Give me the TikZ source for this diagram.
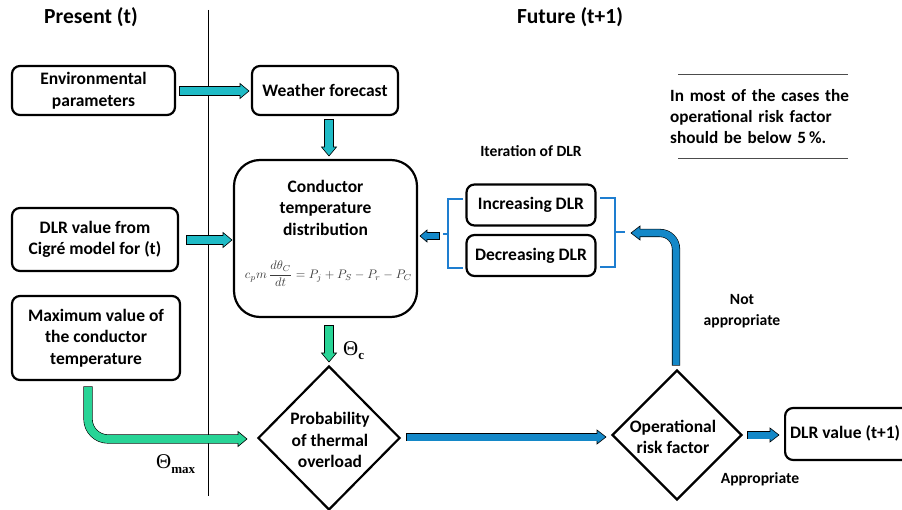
\documentclass[tikz,border=0pt]{standalone}
\usepackage{fontspec}
\setmainfont{Carlito}
\newfontfamily\serifx{Liberation Serif}
\usetikzlibrary{calc,shapes.geometric}
\definecolor{cyanA}{RGB}{31,187,198}
\definecolor{greenA}{RGB}{40,212,150}
\definecolor{blueA}{RGB}{20,136,200}
\definecolor{brk}{RGB}{30,126,208}
\definecolor{eqgray}{RGB}{60,60,60}
\newcommand\arsize[3]{\def\arSW{#1}\def\arHW{#2}\def\arHL{#3}\pgfmathsetmacro\arSWO{#1+1.2}\pgfmathsetmacro\arHLI{#3-1}}
\newcommand\barr[5][]{%
  \path ($(#5)!\arHL pt!(#4)$) coordinate (hb) ($(#5)!\arHLI pt!(#4)$) coordinate (hbi);
  \draw[#1, line width=\arSWO pt, black, shorten <=-0.6pt] #3 (hb);
  \filldraw[fill=#2, draw=black, line width=0.6pt, line join=miter] ($(hb)!\arHW pt!90:(#5)$) -- (#5) -- ($(hb)!\arHW pt!-90:(#5)$) -- cycle;
  \draw[#1, line width=\arSW pt, #2] #3 (hbi);
}
\tikzset{
  box/.style={draw, line width=2.2pt, rounded corners=8pt, align=center, inner sep=0pt,
    font=\bfseries\fontsize{17.5}{21.5}\selectfont},
  dia/.style={draw, diamond, line width=2.2pt, inner sep=0pt},
  txt/.style={align=center, inner sep=0pt, font=\bfseries\fontsize{17.5}{21.5}\selectfont},
  small/.style={align=center, inner sep=0pt, font=\bfseries\fontsize{15.6}{20.5}\selectfont},
  head/.style={inner sep=0pt, font=\bfseries\fontsize{21.5}{24}\selectfont},
  brack/.style={draw=brk, line width=2pt},
}
\begin{document}
\begin{tikzpicture}[x=1pt,y=-1pt]
\useasboundingbox (0,0) rectangle (902,510);
\clip (0,0) rectangle (902,510);
\fill[white] (0,0) rectangle (902,510);

% headings and divider
\node[head] (present) at (91,17) {Present (t)};
\node[head] (future) at (570,17) {Future (t+1)};
\coordinate (vtop) at (208,10);
\coordinate (vbot) at (208,496);
\draw[line width=1pt] (vtop) -- (vbot);

% boxes
\node[box, minimum width=163pt, minimum height=49pt] (env) at (93.5,90.5) {Environmental\\parameters};
\node[box, minimum width=146pt, minimum height=49pt] (weather) at (325,90.5) {Weather forecast};
\node[box, minimum width=183pt, minimum height=157pt, rounded corners=26pt] (cond) at (325.5,238.5) {};
\node[txt] (condt) at (325.5,207.5) {Conductor\\temperature\\distribution};
\node[inner sep=0pt, text=eqgray] (eq) at (328.5,274)
  {\resizebox{167pt}{!}{$c_p m\,\displaystyle\frac{d\theta_C}{dt} = P_j + P_S - P_r - P_C$}};
\node[box, minimum width=166pt, minimum height=63pt] (dlr) at (95,239.5) {DLR value from\\Cigré model for (t)};
\node[box, minimum width=168pt, minimum height=84pt] (maxv) at (96,338) {Maximum value of\\the conductor\\temperature};
\node[box, minimum width=129pt, minimum height=41pt] (inc) at (531,205) {Increasing DLR};
\node[box, minimum width=129pt, minimum height=41pt] (dec) at (531,255.5) {Decreasing DLR};
\node[box, minimum width=128pt, minimum height=52pt, anchor=west] (dlrout) at (784,434) {};
\node[txt, anchor=west] (dlroutt) at (790,433) {DLR value (t+1)};

% diamonds
\node[dia, minimum width=142pt, minimum height=144pt] (probd) at (329,438) {};
\node[txt] (probt) at (330,440) {Probability\\of thermal\\overload};
\node[dia, minimum width=130pt, minimum height=130pt] (opd) at (677,435) {};
\node[txt] (opt) at (673,437) {Operational\\risk factor};

% labels
\node[small] (iter) at (531,151) {Iteration of DLR};
\node[small] (notapp) at (742,311) {Not\\appropriate};
\node[small] (app) at (760,479) {Appropriate};
\node[anchor=west, inner sep=0pt, font=\serifx\fontsize{21}{21}\selectfont] (thc) at (343,351) {Θ\raisebox{-4pt}{\fontsize{13}{13}\selectfont\bfseries c}};
\node[anchor=west, inner sep=0pt, font=\serifx\fontsize{21}{21}\selectfont] (thm) at (156,464) {Θ\raisebox{-5pt}{\fontsize{13}{13}\selectfont\bfseries max}};

% note
\coordinate (n1a) at (678,74); \coordinate (n1b) at (848,74);
\coordinate (n2a) at (678,158); \coordinate (n2b) at (848,158);
\draw[line width=0.8pt, black!70] (n1a) -- (n1b);
\draw[line width=0.8pt, black!70] (n2a) -- (n2b);
\node[anchor=north west, inner sep=0pt, text width=187pt, font=\bfseries\fontsize{17.2}{21}\selectfont] (note) at (670,89)
  {In most of the cases the operational risk factor should be below 5\,\%.};

% brackets
\coordinate (lb1) at (463,199); \coordinate (lb2) at (463,268); \coordinate (lbt) at (443,234);
\draw[brack] (lb1) -| (448,268) -- (lb2);
\draw[brack] (448,234) -- (lbt);
\coordinate (rb1) at (600,198); \coordinate (rb2) at (600,267); \coordinate (rbt) at (625,232);
\draw[brack] (rb1) -| (615,267) -- (rb2);
\draw[brack] (615,232) -- (rbt);

% arrows
\arsize{8}{7.5}{9}
\coordinate (a1s) at (180,91); \coordinate (a1e) at (249,91);
\barr{cyanA}{(a1s) --}{a1s}{a1e}
\coordinate (a2s) at (329,120); \coordinate (a2e) at (329,156);
\barr{cyanA}{(a2s) --}{a2s}{a2e}
\coordinate (a3s) at (187,240); \coordinate (a3e) at (232,240);
\barr{cyanA}{(a3s) --}{a3s}{a3e}
\coordinate (a4s) at (329,326); \coordinate (a4e) at (329,362);
\barr{greenA}{(a4s) --}{a4s}{a4e}
\coordinate (a5s) at (88,387); \coordinate (a5c) at (88,439); \coordinate (a5e) at (247,439);
\barr[rounded corners=20pt]{greenA}{(a5s) -- (a5c) --}{a5c}{a5e}
\arsize{7}{7}{9}
\coordinate (a6s) at (407,437); \coordinate (a6e) at (606,437);
\barr{blueA}{(a6s) --}{a6s}{a6e}
\coordinate (a7s) at (748,435); \coordinate (a7e) at (779,435);
\barr{blueA}{(a7s) --}{a7s}{a7e}
\coordinate (a8s) at (676,365); \coordinate (a8c) at (676,233); \coordinate (a8e) at (631,233);
\barr[rounded corners=16pt]{blueA}{(a8s) -- (a8c) --}{a8c}{a8e}
\arsize{6}{6}{7}
\coordinate (a9s) at (439,236); \coordinate (a9e) at (420,236);
\barr{blueA}{(a9s) --}{a9s}{a9e}
\end{tikzpicture}
\end{document}
